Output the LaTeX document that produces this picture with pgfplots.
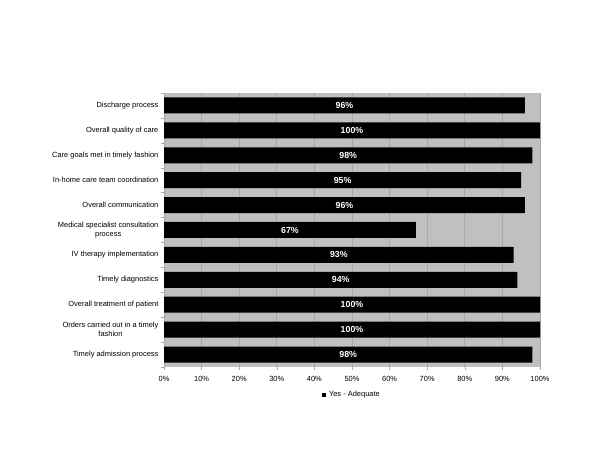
\documentclass[border=0pt]{standalone}
\usepackage{pgfplots}
\pgfplotsset{compat=1.18}
\usepackage{fontspec}
\setmainfont{Liberation Sans}
\definecolor{bg}{RGB}{192,192,192}
\definecolor{gridc}{RGB}{168,168,168}
\begin{document}
\begin{tikzpicture}
\useasboundingbox (0,0) rectangle (450pt,348pt);
\begin{axis}[
  at={(123pt,72.75pt)}, anchor=south west,
  scale only axis, width=282pt, height=205.5pt,
  xbar, bar width=12pt,
  xmin=0, xmax=100, ymin=-0.5, ymax=10.5,
  axis background/.style={fill=bg},
  axis line style={draw=none},
  xmajorgrids, grid style={gridc, line width=0.6pt},
  /pgf/number format/assume math mode=true,
  xtick={0,10,...,100},
  xticklabels={0\%,10\%,20\%,30\%,40\%,50\%,60\%,70\%,80\%,90\%,100\%},
  ytick={0,...,10},
  yticklabels={Timely admission process, Orders carried out in a timely\\fashion, Overall treatment of patient, Timely diagnostics, IV therapy implementation, Medical specialist consultation\\process, Overall communication, In-home care team coordination, Care goals met in timely fashion, Overall quality of care, Discharge process},
  tick align=outside, xtick pos=bottom, ytick pos=left,
  major tick length=2.5pt,
  xtick style={draw=gridc},
  ytick style={draw=none},
  extra y ticks={-0.5,0.5,...,10.5},
  extra y tick labels={},
  extra y tick style={ytick style={draw=gridc}, grid=none},
  yticklabel style={font=\fontsize{5.6}{6.75}\selectfont, align=center, anchor=east, inner sep=0pt, xshift=-1.5pt},
  xticklabel style={font=\fontsize{5.6}{6.75}\selectfont, anchor=north, inner sep=0pt, yshift=-4.5pt},
  point meta=x,
  nodes near coords={\pgfmathprintnumber\pgfplotspointmeta\%},
  visualization depends on={x \as \rawx},
  every node near coord/.append style={font=\bfseries\fontsize{6.6}{8}\selectfont, text=white, anchor=center, shift={(axis direction cs:-\rawx/2,0)}},
  legend style={at={(0.5,-0.102)}, anchor=center, draw=none, fill=none, font=\fontsize{5.6}{6.75}\selectfont, inner sep=0pt},
  legend image code/.code={\fill[black] (0pt,-1.8pt) rectangle (3.6pt,1.8pt);},
]
\addplot[fill=black, draw=none] coordinates {(98,0) (100,1) (100,2) (94,3) (93,4) (67,5) (96,6) (95,7) (98,8) (100,9) (96,10)};
\legend{Yes - Adequate}
\end{axis}
\end{tikzpicture}
\end{document}
